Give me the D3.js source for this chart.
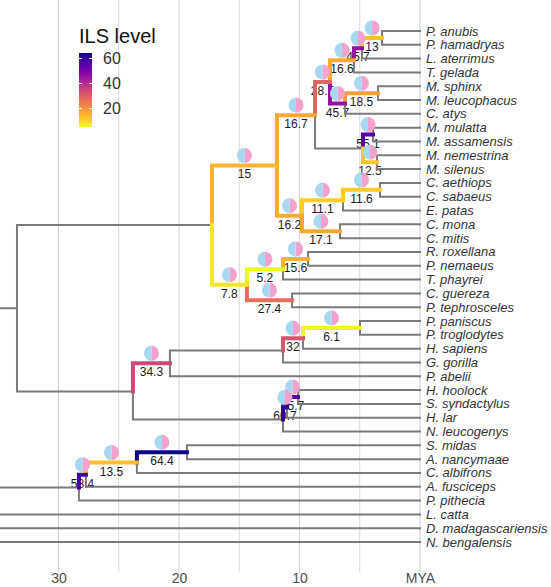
<!DOCTYPE html>
<html><head><meta charset="utf-8">
<script src="https://cdn.jsdelivr.net/npm/d3@7"></script>
<style>body{margin:0;background:#fff} svg{display:block}</style>
</head><body>
<svg id="chart" width="551" height="587"></svg>
<script>
// ---------- data ----------
const tipNames = ["P. anubis","P. hamadryas","L. aterrimus","T. gelada","M. sphinx","M. leucophacus","C. atys",
  "M. mulatta","M. assamensis","M. nemestrina","M. silenus","C. aethiops","C. sabaeus","E. patas","C. mona","C. mitis",
  "R. roxellana","P. nemaeus","T. phayrei","C. guereza","P. tephrosceles","P. paniscus","P. troglodytes","H. sapiens",
  "G. gorilla","P. abelii","H. hoolock","S. syndactylus","H. lar","N. leucogenys","S. midas","A. nancymaae",
  "C. albifrons","A. fusciceps","P. pithecia","L. catta","D. madagascariensis","N. bengalensis"];

const cladeNames = ["Papio","PapLop","PapLopThe","Mandrillus","ManCer","Papionina","MacA","MacB","Macaca","Papionini",
  "Chlorocebus","ChloEry","Cercopithecus","Cercopithecini","Cercopithecinae","RhinoPyg","AsianCol","AfricanCol",
  "Colobinae","Cercopithecidae","Pan","PanHomo","Homininae","Hominidae","HooSyn","HooSynLar","Hylobatidae",
  "Hominoidea","Catarrhini","Callitrichidae","Cebidae","AteCeb","Platyrrhini","Haplorhini","Lemuriformes",
  "Strepsirrhini","Primates"];
const cladeAges = [3.15,4.81,5.48,3.49,6.22,7.47,3.9,3.57,4.73,8.71,
  3.32,6.39,6.64,9.79,11.87,9.29,11.37,10.62,
  14.36,17.26,4.98,9.71,11.37,20.75,10.12,11.04,11.37,
  23.82,33.44,19.34,23.49,27.72,28.3,43,55,
  62,70];
const cladeChildren = [["P. anubis","P. hamadryas"],["Papio","L. aterrimus"],["PapLop","T. gelada"],
  ["M. sphinx","M. leucophacus"],["Mandrillus","C. atys"],["PapLopThe","ManCer"],["M. mulatta","M. assamensis"],
  ["M. nemestrina","M. silenus"],["MacA","MacB"],["Papionina","Macaca"],
  ["C. aethiops","C. sabaeus"],["Chlorocebus","E. patas"],["C. mona","C. mitis"],["ChloEry","Cercopithecus"],
  ["Papionini","Cercopithecini"],["R. roxellana","P. nemaeus"],["RhinoPyg","T. phayrei"],["C. guereza","P. tephrosceles"],
  ["AsianCol","AfricanCol"],["Cercopithecinae","Colobinae"],["P. paniscus","P. troglodytes"],["Pan","H. sapiens"],
  ["PanHomo","G. gorilla"],["Homininae","P. abelii"],["H. hoolock","S. syndactylus"],["HooSyn","H. lar"],
  ["HooSynLar","N. leucogenys"],["Hominidae","Hylobatidae"],["Cercopithecidae","Hominoidea"],
  ["S. midas","A. nancymaae"],["Callitrichidae","C. albifrons"],["Cebidae","A. fusciceps"],["AteCeb","P. pithecia"],
  ["Catarrhini","Platyrrhini"],["L. catta","D. madagascariensis"],["Lemuriformes","N. bengalensis"],
  ["Haplorhini","Strepsirrhini"]];

const ilsClades = ["Cercopithecinae","Colobinae","AsianCol","AfricanCol","RhinoPyg","Papionini","Cercopithecini",
  "ChloEry","Cercopithecus","Chlorocebus","Papionina","PapLopThe","PapLop","Papio","ManCer","Mandrillus","MacA","MacB",
  "Hominidae","PanHomo","Pan","HooSynLar","HooSyn","AteCeb","Cebidae","Callitrichidae"];
const ilsValues = [15,7.8,5.2,27.4,15.6,16.7,16.2,11.1,17.1,11.6,28.5,16.6,45.7,13,45.7,18.5,55.1,12.5,
  34.3,32,6.1,60.7,55.7,58.4,13.5,64.4];
const pieBlueShare = [0.5,0.5,0.5,0.5,0.5,0.5,0.5,0.5,0.5,0.5,0.5,0.5,0.5,0.5,0.5,0.5,0.5,0.5,
  0.5,0.5,0.5,0.5,0.5,0.5,0.5,0.5];

const axisTicks = [30,20,10,0];
const gridTicks = [30,25,20,15,10,5,0];
const legendTicks = [20,40,60];

// ---------- setup ----------
const svg = d3.select("#chart");
const x = d3.scaleLinear().domain([34.85, 0]).range([0, 420]);
const y = d3.scaleLinear().domain([0, tipNames.length - 1]).range([31, 542]);
const ilsExtent = [5.2, 64.4];
const color = d3.scaleSequential(t => d3.interpolatePlasma(1 - t)).domain(ilsExtent);

const nodes = new Map();
tipNames.forEach((n, i) => nodes.set(n, {name: n, age: 0, tip: true, idx: i, children: []}));
cladeNames.forEach((n, i) => nodes.set(n, {name: n, age: cladeAges[i], tip: false, children: cladeChildren[i]}));
cladeNames.forEach((n, i) => cladeChildren[i].forEach(c => nodes.get(c).parent = n));
function yOf(n) {
  const d = nodes.get(n);
  if (d.yv === undefined) d.yv = d.tip ? y(d.idx) : d3.mean(d.children, yOf);
  return d.yv;
}
const ilsMap = new Map(ilsClades.map((c, i) => [c, {v: ilsValues[i], blue: pieBlueShare[i]}]));

// gridlines
svg.append("g").selectAll("line").data(gridTicks).join("line")
  .attr("x1", d => x(d)).attr("x2", d => x(d)).attr("y1", 0).attr("y2", 572)
  .attr("stroke", d => d % 10 === 0 ? "#cfcfcf" : "#dadada").attr("stroke-width", 1);

// axis
const ax = svg.append("g").attr("transform", "translate(0,572)")
  .call(d3.axisBottom(x).tickValues(axisTicks).tickSize(0).tickPadding(1)
    .tickFormat(d => d === 0 ? "MYA" : d));
ax.select(".domain").remove();
ax.selectAll("text").attr("font-family", "Liberation Sans, Arial, sans-serif").attr("font-size", 14).attr("fill", "#4d4d4d");

// edges
const edges = [...nodes.values()].filter(d => d.parent).map(d => {
  const p = nodes.get(d.parent);
  const ils = ilsMap.get(d.name);
  return {d, p, ils, px: x(p.age), py: yOf(p.name), cx: x(d.age), cy: yOf(d.name)};
});

// branch labels (drawn under lines)
const coloured = edges.filter(e => e.ils);
svg.append("g").selectAll("text").data(coloured).join("text")
  .attr("x", e => (e.px + e.cx) / 2).attr("y", e => e.cy + 9)
  .attr("text-anchor", "middle").attr("dominant-baseline", "central")
  .attr("font-family", "Liberation Sans, Arial, sans-serif").attr("font-size", 12).attr("fill", "#1a1a1a")
  .text(e => e.ils.v);

const path = e => `M${e.px},${e.py}V${e.cy}H${e.cx}`;
svg.append("g").selectAll("path").data(edges.filter(e => !e.ils)).join("path")
  .attr("d", path).attr("fill", "none").attr("stroke", "#7b7b7b").attr("stroke-width", 2)
  .attr("stroke-linecap", "square");
svg.append("g").selectAll("path").data(coloured).join("path")
  .attr("d", path).attr("fill", "none").attr("stroke", e => color(e.ils.v)).attr("stroke-width", 4)
  .attr("stroke-linecap", "square");

// pies
const pie = d3.pie().sort(null).value(d => d.v);
const arc = d3.arc().innerRadius(0).outerRadius(7.5);
const pg = svg.append("g").selectAll("g").data(coloured).join("g")
  .attr("transform", e => `translate(${(e.px + e.cx) / 2},${e.cy - 10})`);
pg.selectAll("path").data(e => pie([{v: 1 - e.ils.blue, c: "#f3a2cf"}, {v: e.ils.blue, c: "#a7d8f1"}]))
  .join("path").attr("d", arc).attr("fill", d => d.data.c);

// tip labels
svg.append("g").selectAll("text").data(tipNames).join("text")
  .attr("x", 426).attr("y", (d, i) => y(i)).attr("dominant-baseline", "central")
  .attr("font-family", "Liberation Sans, Arial, sans-serif").attr("font-style", "italic")
  .attr("font-size", 13).attr("fill", "#333").text(d => d);

// legend
const lg = svg.append("g");
lg.append("text").attr("x", 79).attr("y", 43).attr("font-family", "Liberation Sans, Arial, sans-serif")
  .attr("font-size", 20).attr("fill", "#111").text("ILS level");
const defs = svg.append("defs");
const grad = defs.append("linearGradient").attr("id", "ilsgrad").attr("x1", 0).attr("x2", 0).attr("y1", 1).attr("y2", 0);
d3.range(0, 1.0001, 0.05).forEach(t => grad.append("stop").attr("offset", t)
  .attr("stop-color", color(ilsExtent[0] + t * (ilsExtent[1] - ilsExtent[0]))));
const ly = d3.scaleLinear().domain(ilsExtent).range([127, 53]);
lg.append("rect").attr("x", 79).attr("y", 53).attr("width", 13).attr("height", 74).attr("fill", "url(#ilsgrad)");
lg.selectAll(".tk").data(legendTicks).join("g").each(function(v) {
  const g = d3.select(this);
  g.append("line").attr("x1", 79).attr("x2", 82).attr("y1", ly(v)).attr("y2", ly(v)).attr("stroke", "#fff").attr("stroke-width", 1);
  g.append("line").attr("x1", 89).attr("x2", 92).attr("y1", ly(v)).attr("y2", ly(v)).attr("stroke", "#fff").attr("stroke-width", 1);
  g.append("text").attr("x", 103).attr("y", ly(v)).attr("dominant-baseline", "central")
    .attr("font-family", "Liberation Sans, Arial, sans-serif").attr("font-size", 16).attr("fill", "#333").text(v);
});
</script>
</body></html>
